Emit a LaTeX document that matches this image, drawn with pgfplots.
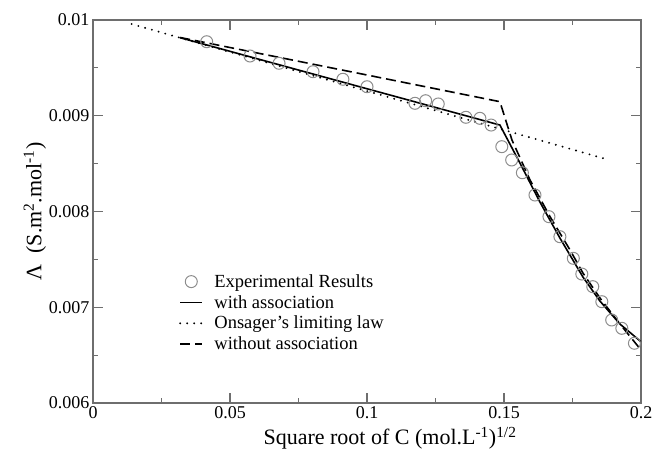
\documentclass[border=0pt]{standalone}
\usepackage{fontspec}
\setmainfont{Liberation Serif}
\usepackage{pgfplots}
\pgfplotsset{compat=1.18}
\definecolor{axgray}{HTML}{6E6E6E}
\definecolor{ptgray}{HTML}{8C8C8C}
\pgfplotsset{
  markleg/.style={legend image code/.code={\draw[##1] plot coordinates {(0.39cm,0cm)};}},
  lineleg/.style={legend image code/.code={\draw[##1] (0cm,0cm) -- (0.78cm,0cm);}},
}
\begin{document}
\begin{tikzpicture}
\begin{axis}[
  scale only axis, width=548pt, height=383pt,
  xmin=0, xmax=0.2, ymin=0.006, ymax=0.01,
  scaled x ticks=false, scaled y ticks=false,
  xtick={0,0.05,0.1,0.15,0.2}, xticklabels={0,0.05,0.1,0.15,0.2},
  ytick={0.006,0.007,0.008,0.009,0.01}, yticklabels={0.006,0.007,0.008,0.009,0.01},
  minor xtick={0.025,0.075,0.125,0.175},
  minor ytick={0.0065,0.0075,0.0085,0.0095},
  tick align=inside, major tick length=10pt, minor tick length=5pt,
  axis line style={axgray, line width=1.3pt},
  every tick/.style={axgray, line width=1.2pt},
  tick label style={font=\fontsize{18}{18}\selectfont, black},
  /pgf/number format/assume math mode=true,
  xlabel={Square root of C (mol.L\textsuperscript{-1})\textsuperscript{1/2}},
  ylabel={Λ\ \ (S.m\textsuperscript{2}.mol\textsuperscript{-1})},
  label style={font=\fontsize{22}{22}\selectfont},
  xlabel style={at={(axis description cs:0.542,-0.0914)}, anchor=center},
  ylabel style={at={(axis description cs:-0.106,0.5)}, anchor=center},
  legend style={draw=none, fill=none, at={(axis description cs:0.155,0.344)}, anchor=north west,
    font=\fontsize{18.5}{19}\selectfont, row sep=2.5pt, inner sep=1pt,
    /tikz/every odd column/.style={column sep=9pt}},
  legend cell align=left,
]
\addplot[only marks, mark=o, mark size=6pt, mark options={draw=ptgray, line width=1pt}, markleg] coordinates {
(0.0415,0.009773) (0.0573,0.009624) (0.0679,0.009548) (0.0803,0.009460)
(0.0912,0.009381) (0.1000,0.009303) (0.1175,0.009130) (0.1214,0.009157)
(0.1260,0.009123) (0.1361,0.008984) (0.1412,0.008973) (0.1453,0.008903)
(0.1492,0.008677) (0.1528,0.008538) (0.1567,0.008405) (0.1613,0.008172)
(0.1664,0.007946) (0.1704,0.007737) (0.1753,0.007511) (0.1784,0.007347)
(0.1824,0.007215) (0.1857,0.007058) (0.1893,0.006867) (0.1930,0.006780)
(0.1976,0.006624)
};
\addlegendentry{Experimental Results}
\addplot[black, line width=1.6pt, lineleg] coordinates {
(0.0318,0.009815) (0.1485,0.008903) (0.1558,0.008507) (0.1631,0.008099)
(0.1704,0.007723) (0.1788,0.007316) (0.1850,0.007065) (0.1923,0.006825)
(0.2000,0.006640)
};
\addlegendentry{with association}
\addplot[black, line width=2.1pt, line cap=round, dash pattern=on 0pt off 7pt, lineleg] coordinates {
(0.0141,0.009958) (0.1862,0.008556)
};
\addlegendentry{Onsager’s limiting law}
\addplot[black, line width=1.6pt, dash pattern=on 10pt off 5pt, lineleg] coordinates {
(0.0318,0.009817) (0.1485,0.009147) (0.1529,0.008747) (0.1595,0.008329)
(0.1668,0.007946) (0.1741,0.007598) (0.1788,0.007358) (0.1850,0.007097)
(0.1923,0.006825) (0.2000,0.006554)
};
\addlegendentry{without association}
\end{axis}
\pgfresetboundingbox
\path[use as bounding box] ([xshift=-93pt,yshift=20pt]current axis.north west) rectangle ([xshift=13pt,yshift=-54pt]current axis.south east);
\end{tikzpicture}
\end{document}
